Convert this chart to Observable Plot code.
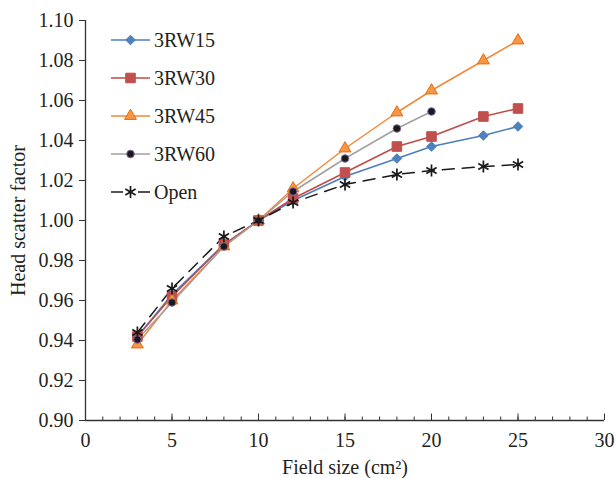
<!DOCTYPE html>
<html>
<head>
<meta charset="utf-8">
<script src="https://cdn.jsdelivr.net/npm/d3@7"></script>
<script src="https://cdn.jsdelivr.net/npm/@observablehq/plot@0.6"></script>
<style>
  html, body { margin: 0; padding: 0; background: #fff; }
  #wrap { position: relative; width: 616px; height: 478px; font-family: "Liberation Serif", serif; color: #231f20; }
  #legend { position: absolute; left: 110px; top: 21px; }
  .item { display: flex; align-items: center; height: 38px; font-size: 20px; }
  .item svg { margin-right: 2px; }
</style>
</head>
<body>
<div id="wrap"><div id="chart"></div><div id="legend"></div></div>
<script>
// ---- data ----
const fieldSize = [3, 5, 8, 10, 12, 15, 18, 20, 23, 25];
const rw15 = [0.942, 0.963, 0.988, 1.000, 1.010, 1.022, 1.031, 1.037, 1.0425, 1.047];
const rw30 = [0.942, 0.962, 0.988, 1.000, 1.011, 1.024, 1.037, 1.042, 1.052, 1.056];
const rw45 = [0.938, 0.960, 0.987, 1.000, 1.016, 1.036, 1.054, 1.065, 1.080, 1.090];
const rw60 = [0.9405, 0.959, 0.987, 1.000, 1.0145, 1.031, 1.046, 1.0545];
const open = [0.944, 0.966, 0.992, 1.000, 1.009, 1.018, 1.023, 1.025, 1.027, 1.028];
const seriesNames = ["3RW15", "3RW30", "3RW45", "3RW60", "Open"];
const xTicks = [0, 5, 10, 15, 20, 25, 30];
const yTicks = [0.90, 0.92, 0.94, 0.96, 0.98, 1.00, 1.02, 1.04, 1.06, 1.08, 1.10];
const xLabel = "Field size (cm\u00B2)";
const yLabel = "Head scatter factor";

// ---- styles ----
const styles = {
  "3RW15": {line: "#4a7ebb", fill: "#4f81bd", stroke: "#4a7ebb", symbol: "diamond2", r: 4.3, dash: null},
  "3RW30": {line: "#be4b48", fill: "#c0504d", stroke: "#c0504d", symbol: "square", r: 5.4, dash: null},
  "3RW45": {line: "#f0883a", fill: "#f79646", stroke: "#e46c0a", symbol: "triangle", r: 4.4, dash: null},
  "3RW60": {line: "#a0a0a0", fill: "#1a1a1a", stroke: "#8064a2", symbol: "circle", r: 3.8, dash: null},
  "Open":  {line: "#1a1a1a", fill: "none", stroke: "#1a1a1a", symbol: "asterisk", r: 5.6, dash: "12,8"}
};

const valueArrays = [rw15, rw30, rw45, rw60, open];
const rows = [];
seriesNames.forEach((s, k) => valueArrays[k].forEach((v, i) => rows.push({series: s, x: fieldSize[i], y: v})));

const marks = [];
// minor/major ticks on x axis pointing inward
const minor = d3.range(0, 31);
marks.push(Plot.ruleX(minor, {x: d => d, insetTop: 396.5, stroke: "#333", strokeWidth: 1}));
marks.push(Plot.ruleX(xTicks, {x: d => d, insetTop: 393.5, stroke: "#333", strokeWidth: 1}));
marks.push(Plot.axisX(xTicks, {tickSize: 0, tickPadding: 12, tickFormat: d => String(d), label: xLabel, labelAnchor: "center", labelOffset: 53, labelArrow: "none", fontSize: 20}));
marks.push(Plot.axisY(yTicks, {tickSize: 6, tickPadding: 6, tickFormat: d3.format(".2f"), label: yLabel, labelAnchor: "center", labelOffset: 75, labelArrow: "none", fontSize: 20, stroke: "#333"}));
marks.push(Plot.ruleX([0], {stroke: "#333", strokeWidth: 1.3}));
marks.push(Plot.ruleY([0.9], {stroke: "#333", strokeWidth: 1.3}));

for (const s of seriesNames) {
  const st = styles[s];
  const data = rows.filter(d => d.series === s);
  marks.push(Plot.line(data, {x: "x", y: "y", stroke: st.line, strokeWidth: 1.5, strokeDasharray: st.dash}));
}
for (const s of seriesNames) {
  const st = styles[s];
  const data = rows.filter(d => d.series === s);
  if (st.fill === "none") {
    marks.push(Plot.dot(data, {x: "x", y: "y", symbol: st.symbol, r: st.r, stroke: st.stroke, strokeWidth: 1.7, fill: "none"}));
  } else {
    marks.push(Plot.dot(data, {x: "x", y: "y", symbol: st.symbol, r: st.r, fill: st.fill, stroke: st.stroke, strokeWidth: 1}));
  }
}

const chart = Plot.plot({
  width: 616,
  height: 478,
  marginLeft: 85,
  marginRight: 12,
  marginTop: 20,
  marginBottom: 58,
  style: {fontFamily: "'Liberation Serif', serif", fontSize: "20px", color: "#231f20", background: "#fff"},
  x: {domain: [0, 30]},
  y: {domain: [0.9, 1.1]},
  marks
});
document.getElementById("chart").appendChild(chart);

// ---- legend ----
const legend = document.getElementById("legend");
for (const s of seriesNames) {
  const st = styles[s];
  const item = document.createElement("div");
  item.className = "item";
  const svg = d3.create("svg").attr("width", 42).attr("height", 20);
  if (st.dash) {
    svg.append("line").attr("x1", 1).attr("x2", 13).attr("y1", 10).attr("y2", 10).attr("stroke", st.line).attr("stroke-width", 1.5);
    svg.append("line").attr("x1", 28).attr("x2", 40).attr("y1", 10).attr("y2", 10).attr("stroke", st.line).attr("stroke-width", 1.5);
  } else {
    svg.append("line").attr("x1", 1).attr("x2", 40).attr("y1", 10).attr("y2", 10).attr("stroke", st.line).attr("stroke-width", 1.5);
  }
  const symType = {diamond2: d3.symbolDiamond2, square: d3.symbolSquare, triangle: d3.symbolTriangle, circle: d3.symbolCircle, asterisk: d3.symbolAsterisk}[st.symbol];
  const size = Math.PI * st.r * st.r;
  svg.append("path").attr("transform", "translate(20.5,10)").attr("d", d3.symbol(symType, size)())
    .attr("fill", st.fill).attr("stroke", st.stroke).attr("stroke-width", st.fill === "none" ? 1.7 : 1);
  item.appendChild(svg.node());
  const span = document.createElement("span");
  span.textContent = s;
  item.appendChild(span);
  legend.appendChild(item);
}
</script>
</body>
</html>
